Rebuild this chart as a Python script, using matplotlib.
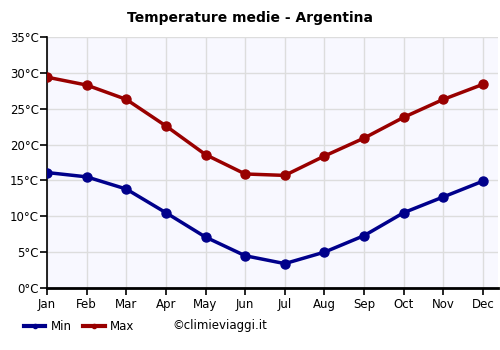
import matplotlib
matplotlib.use("Agg")
import matplotlib.pyplot as plt
from matplotlib.lines import Line2D

months = ["Jan", "Feb", "Mar", "Apr", "May", "Jun", "Jul", "Aug", "Sep", "Oct", "Nov", "Dec"]
t_min = [16.1, 15.5, 13.8, 10.5, 7.1, 4.5, 3.4, 5.0, 7.3, 10.5, 12.7, 14.9]
t_max = [29.4, 28.3, 26.3, 22.6, 18.6, 15.9, 15.7, 18.4, 20.9, 23.8, 26.3, 28.4]
yticks = [0, 5, 10, 15, 20, 25, 30, 35]
legend_labels = ["Min", "Max"]
colors = ["#00008b", "#990000"]

fig = plt.figure(figsize=(5, 3.5), dpi=100)
ax = fig.add_axes([47/500, 1-288/350, (498-47)/500, (288-37)/350])
ax.set_facecolor("#f8f8ff")
x = list(range(len(months)))
ax.plot(x, t_min, color=colors[0], lw=2.5, marker="o", ms=6.5, zorder=3)
ax.plot(x, t_max, color=colors[1], lw=2.5, marker="o", ms=6.5, zorder=3)
ax.set_xlim(0, 11.38)
ax.set_ylim(0, 35)
ax.set_xticks(x)
ax.set_xticklabels(months, fontsize=8.5)
ax.set_yticks(yticks)
ax.set_yticklabels([f"{v}°C" for v in yticks], fontsize=8.5)
ax.grid(True, color="#dddddd", lw=1)
ax.set_axisbelow(True)
for s in ["top", "right"]:
    ax.spines[s].set_visible(False)
ax.spines["bottom"].set_linewidth(2)
ax.spines["left"].set_linewidth(1.2)
ax.tick_params(axis="x", length=5, width=1.2, pad=2)
ax.tick_params(axis="y", length=5, width=1.2, pad=1)
fig.text(0.5, 1-18/350, "Temperature medie - Argentina", ha="center", va="center",
         fontsize=10, fontweight="bold")

ly = 1 - 326/350
for (x0, x1, tx), lab, c in zip([(24, 45, 51), (83, 105, 110)], legend_labels, colors):
    fig.add_artist(Line2D([x0/500, x1/500], [ly, ly], color=c, lw=3, transform=fig.transFigure))
    fig.add_artist(Line2D([(x0+x1)/1000], [ly], color=c, marker="o", ms=3, transform=fig.transFigure))
    fig.text(tx/500, ly, lab, ha="left", va="center", fontsize=8.5)
fig.text(172/500, ly, "©climieviaggi.it", ha="left", va="center", fontsize=8.5)
fig.savefig("out.png", dpi=100)
